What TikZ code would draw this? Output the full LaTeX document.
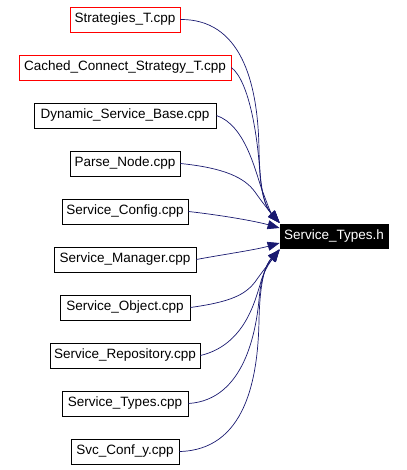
\documentclass[tikz,border=0pt]{standalone}
\usepackage{fontspec}
\setmainfont{Liberation Sans}
\usetikzlibrary{arrows.meta}
\definecolor{edgeblue}{HTML}{191970}
\begin{document}
\begin{tikzpicture}[x=1pt,y=-1pt,
  file/.style={draw=black,line width=0.8pt,minimum height=25pt,inner sep=0pt,font=\fontsize{13.5}{14}\selectfont,anchor=center},
  redfile/.style={file,draw=red},
  edge/.style={draw=edgeblue,line width=0.7pt,-{Triangle[length=12pt,width=9pt]}}]
\useasboundingbox (0,0) rectangle (406,470);
\node[redfile,minimum width=110pt] (s1) at (125,19.5) {Strategies\_T.cpp};
\node[redfile,minimum width=212pt] (s2) at (125,67.5) {Cached\_Connect\_Strategy\_T.cpp};
\node[file,minimum width=182pt] (s3) at (125,115.5) {Dynamic\_Service\_Base.cpp};
\node[file,minimum width=110pt] (s4) at (125,163.5) {Parse\_Node.cpp};
\node[file,minimum width=126pt] (s5) at (125,211.5) {Service\_Config.cpp};
\node[file,minimum width=142pt] (s6) at (125,259.5) {Service\_Manager.cpp};
\node[file,minimum width=130pt] (s7) at (125,307.5) {Service\_Object.cpp};
\node[file,minimum width=150pt] (s8) at (125,355.5) {Service\_Repository.cpp};
\node[file,minimum width=126pt] (s9) at (125,403.5) {Service\_Types.cpp};
\node[file,minimum width=108pt] (s10) at (125,451.5) {Svc\_Conf\_y.cpp};
\node[file,fill=black,text=white,minimum width=108pt,minimum height=24pt] (t) at (334,236) {Service\_Types.h};
\draw[edge] (s1.east) .. controls (240,19) and (258,80) .. (259,150) .. controls (260,195) and (266,208) .. ([yshift=14pt]t.west);
\draw[edge] (s2.east) .. controls (250,82) and (258,140) .. (260,175) .. controls (262,200) and (268,210) .. ([yshift=13pt]t.west);
\draw[edge] (s3.east) .. controls (245,125) and (255,170) .. (262,190) .. controls (266,200) and (270,212) .. ([yshift=13pt]t.west);
\draw[edge] (s4.east) .. controls (225,168) and (245,178) .. (255,192) .. controls (262,202) and (270,212) .. ([yshift=13pt]t.west);
\draw[edge] (s5.east) .. controls (220,215) and (255,221) .. ([yshift=8pt]t.west);
\draw[edge] (s6.east) .. controls (220,255) and (255,250) .. ([yshift=-7pt]t.west);
\draw[edge] (s7.east) .. controls (230,302) and (245,295) .. (255,282) .. controls (262,272) and (270,262) .. ([yshift=-13pt]t.west);
\draw[edge] (s8.east) .. controls (245,345) and (255,300) .. (260,285) .. controls (263,272) and (270,262) .. ([yshift=-14pt]t.west);
\draw[edge] (s9.east) .. controls (245,400) and (256,330) .. (259,300) .. controls (261,275) and (268,262) .. ([yshift=-14pt]t.west);
\draw[edge] (s10.east) .. controls (245,450) and (258,380) .. (259,320) .. controls (260,278) and (266,264) .. ([yshift=-14pt]t.west);
\end{tikzpicture}
\end{document}
